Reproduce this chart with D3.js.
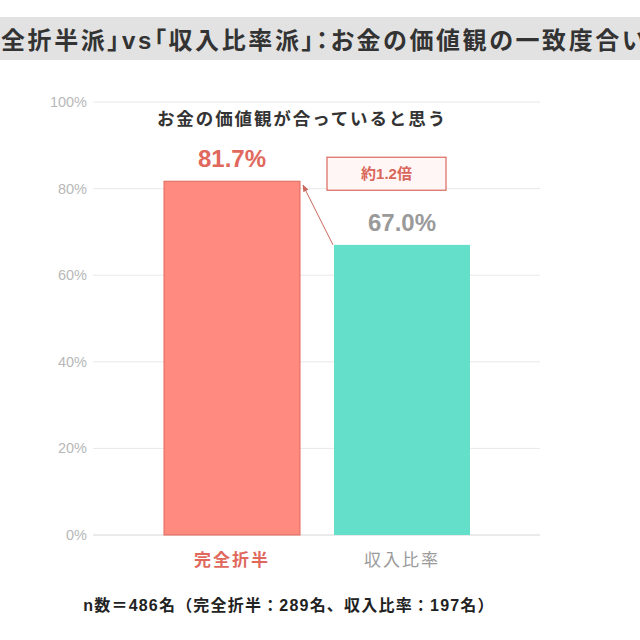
<!DOCTYPE html>
<html>
<head>
<meta charset="utf-8">
<script src="https://cdn.jsdelivr.net/npm/d3@7"></script>
<style>
  body { margin: 0; background: #fff; }
  text { font-family: "Liberation Sans", "Noto Sans CJK JP", sans-serif; }
</style>
</head>
<body>
<div id="chart"></div>
<script>
// Data
const categories = ["完全折半", "収入比率"];
const values = [81.7, 67.0];
const yTicks = [0, 20, 40, 60, 80, 100];
const sampleSizes = [289, 197];
const totalN = 486;

const titleLead = "「完";
const titleText = "「完全折半派」vs「収入比率派」：お金の価値観の一致度合い";
const subtitleText = "お金の価値観が合っていると思う";
const ratioText = "約1.2倍";

const width = 640, height = 640;

const svg = d3.select("#chart").append("svg")
  .attr("width", width)
  .attr("height", height);

// Title band (the title overflows the frame on both sides, as in the source)
svg.append("rect")
  .attr("x", 0).attr("y", 17)
  .attr("width", width).attr("height", 43)
  .attr("fill", "#e2e2e2");

const titleStyle = sel => sel
  .style("font-size", "24px")
  .style("font-weight", "bold")
  .style("font-feature-settings", "'palt'")
  .style("letter-spacing", "2.6px")
  .style("fill", "#333");

// measure the part that falls off the left edge
const probe = svg.append("text").call(titleStyle).text(titleLead);
const leadW = probe.node().getComputedTextLength();
probe.remove();

svg.append("text")
  .attr("x", 1 - leadW)
  .attr("y", 49)
  .call(titleStyle)
  .text(titleText);

// Scales
const x = d3.scaleBand()
  .domain(categories)
  .range([147, 487])
  .paddingInner(0.2)
  .paddingOuter(0.1);

const y = d3.scaleLinear()
  .domain([0, 100])
  .range([535, 102]);

// Gridlines
svg.append("g")
  .selectAll("line")
  .data(yTicks)
  .enter().append("line")
  .attr("x1", 93).attr("x2", 540)
  .attr("y1", d => y(d)).attr("y2", d => y(d))
  .attr("stroke", d => d === 0 ? "#d6d6d6" : "#e8e8e8")
  .attr("stroke-width", 1);

// Y axis labels
svg.append("g")
  .selectAll("text")
  .data(yTicks)
  .enter().append("text")
  .attr("x", 87)
  .attr("y", d => y(d))
  .attr("dy", "0.35em")
  .attr("text-anchor", "end")
  .style("font-size", "14.5px")
  .style("fill", "#b8b8b8")
  .text(d => d + "%");

// Subtitle
svg.append("text")
  .attr("x", 302)
  .attr("y", 125)
  .attr("text-anchor", "middle")
  .style("font-size", "17.5px")
  .style("font-weight", "bold")
  .style("letter-spacing", "1.9px")
  .style("fill", "#333")
  .text(subtitleText);

const fills = ["#ff8a7f", "#63dfca"];
const strokes = ["#e0685c", "none"];
const labelColors = ["#e0685c", "#9a9a9a"];

// Bars
svg.append("g")
  .selectAll("rect")
  .data(values)
  .enter().append("rect")
  .attr("x", (d, i) => x(categories[i]))
  .attr("y", d => y(d))
  .attr("width", x.bandwidth())
  .attr("height", d => y(0) - y(d))
  .attr("fill", (d, i) => fills[i])
  .attr("stroke", (d, i) => strokes[i])
  .attr("stroke-width", 1);

// Value labels
svg.append("g")
  .selectAll("text")
  .data(values)
  .enter().append("text")
  .attr("x", (d, i) => x(categories[i]) + x.bandwidth() / 2)
  .attr("y", d => y(d) - 14)
  .attr("text-anchor", "middle")
  .style("font-size", "24px")
  .style("font-weight", "bold")
  .style("fill", (d, i) => labelColors[i])
  .text(d => d.toFixed(1) + "%");

// Category labels
svg.append("g")
  .selectAll("text")
  .data(categories)
  .enter().append("text")
  .attr("x", d => x(d) + x.bandwidth() / 2)
  .attr("y", 566)
  .attr("text-anchor", "middle")
  .style("font-size", "17px")
  .style("letter-spacing", "2px")
  .style("font-weight", (d, i) => i === 0 ? "bold" : "normal")
  .style("fill", (d, i) => labelColors[i])
  .text(d => d);

// Ratio annotation box
const boxX = x(categories[1]) - 7, boxW = 119;
const boxY = y(values[0]) - 24, boxH = 33;
svg.append("rect")
  .attr("x", boxX).attr("y", boxY)
  .attr("width", boxW).attr("height", boxH)
  .attr("fill", "#fff6f5")
  .attr("stroke", "#d9685c")
  .attr("stroke-width", 1.2);

svg.append("text")
  .attr("x", boxX + boxW / 2)
  .attr("y", boxY + boxH / 2)
  .attr("dy", "0.35em")
  .attr("text-anchor", "middle")
  .style("font-size", "15px")
  .style("font-weight", "bold")
  .style("fill", "#d9665a")
  .text(ratioText);

// Arrow from bar 2 top-left to bar 1 top-right
svg.append("defs").append("marker")
  .attr("id", "arrow")
  .attr("viewBox", "0 0 10 10")
  .attr("refX", 9).attr("refY", 5)
  .attr("markerWidth", 7).attr("markerHeight", 7)
  .attr("orient", "auto")
  .append("path")
  .attr("d", "M0,1 L10,5 L0,9 Z")
  .attr("fill", "#c9675d");

svg.append("line")
  .attr("x1", x(categories[1]) - 1)
  .attr("y1", y(values[1]))
  .attr("x2", x(categories[0]) + x.bandwidth() + 3)
  .attr("y2", y(values[0]) + 4)
  .attr("stroke", "#c9675d")
  .attr("stroke-width", 1)
  .attr("marker-end", "url(#arrow)");

// Footer
svg.append("text")
  .attr("x", 289)
  .attr("y", 611)
  .attr("text-anchor", "middle")
  .style("font-size", "16px")
  .style("font-weight", "bold")
  .style("letter-spacing", "1.2px")
  .style("fill", "#222")
  .text(`n数＝${totalN}名（${categories[0]}：${sampleSizes[0]}名、${categories[1]}：${sampleSizes[1]}名）`);
</script>
</body>
</html>
